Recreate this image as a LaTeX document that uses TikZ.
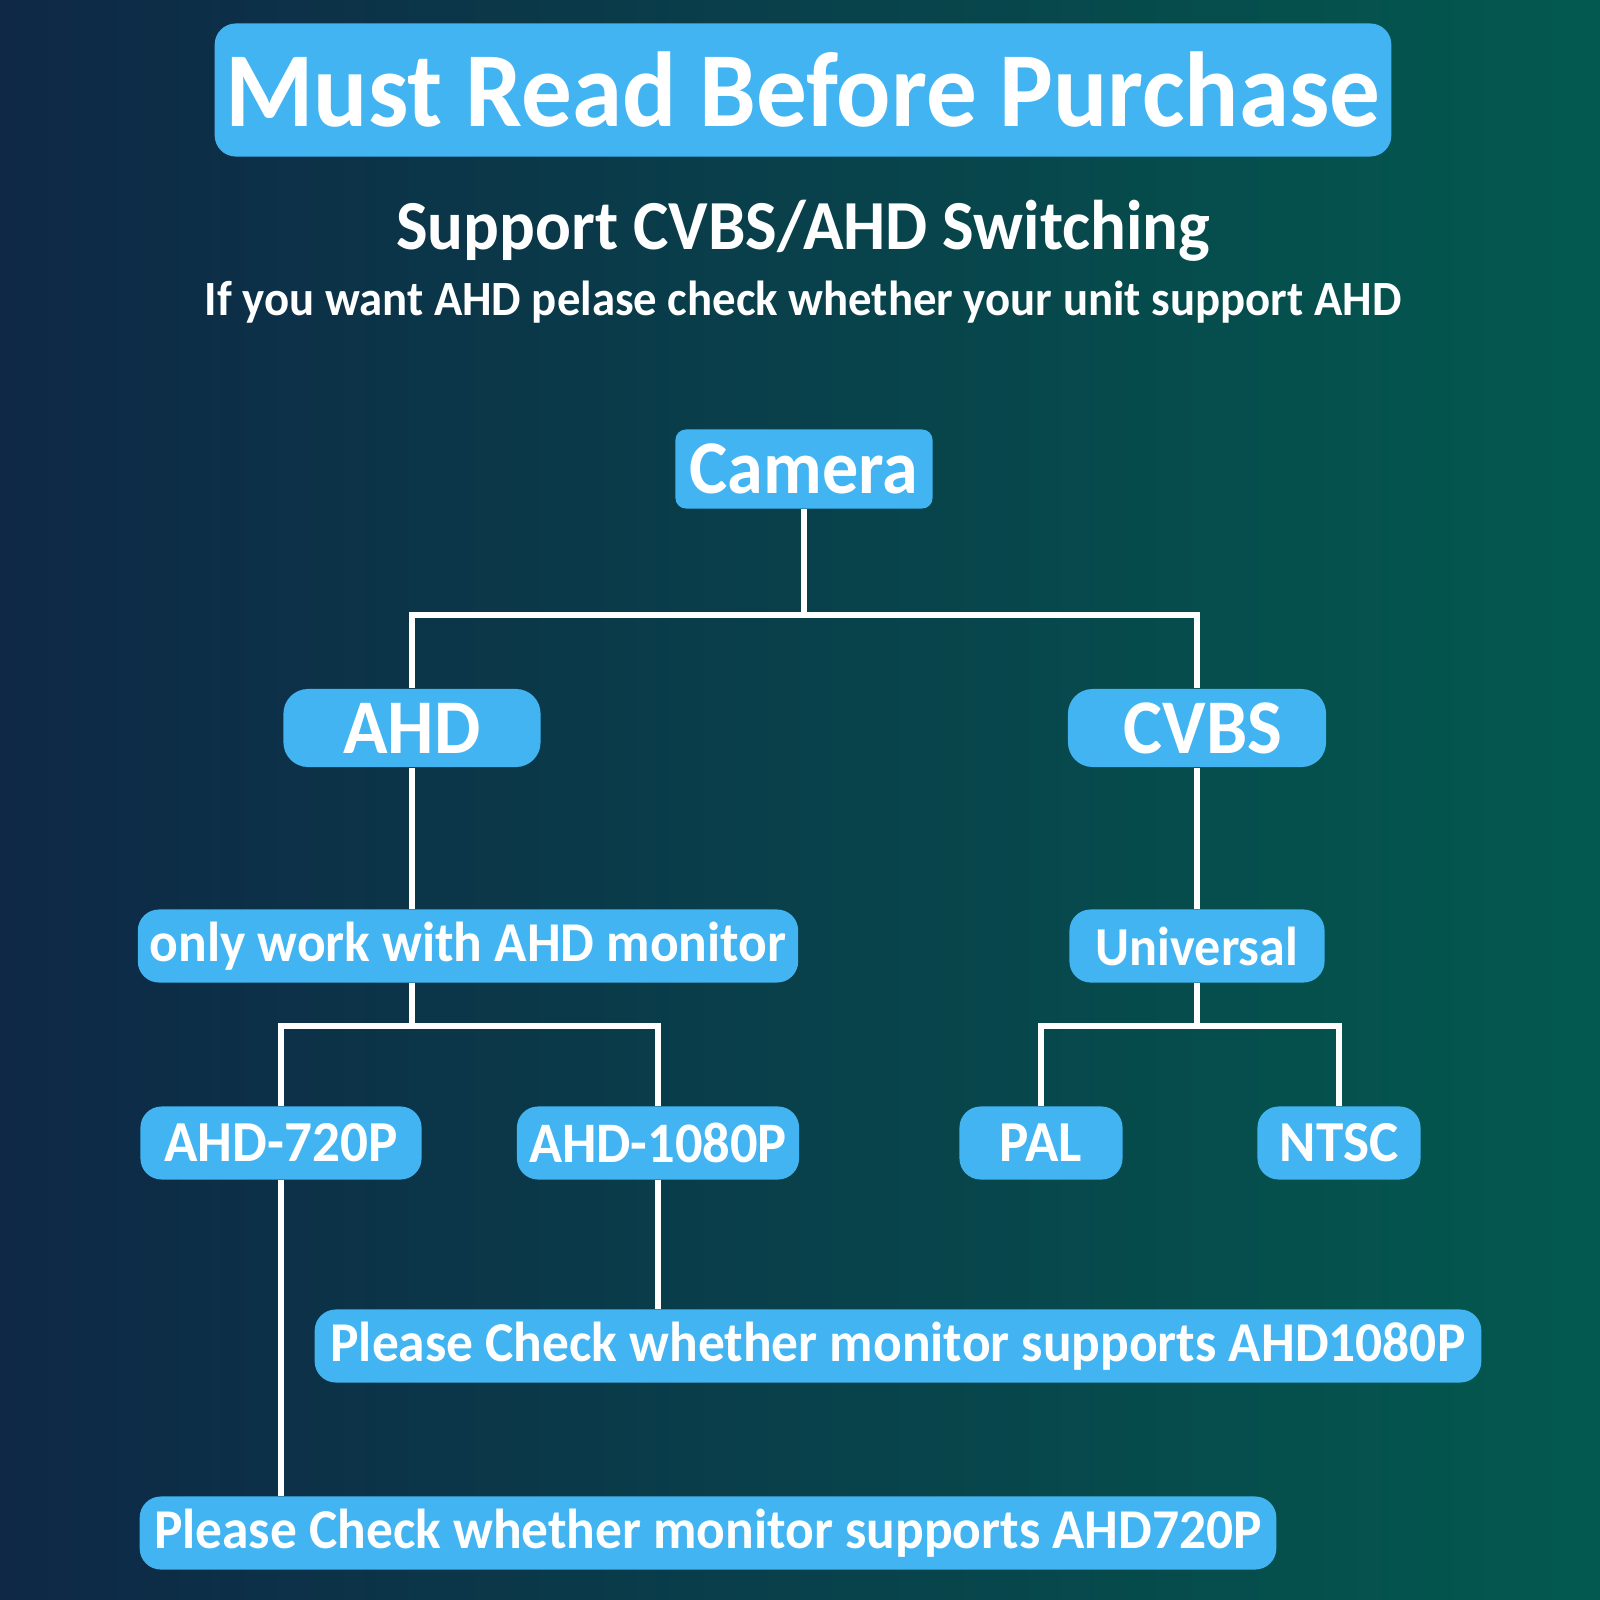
\documentclass[tikz,border=0pt]{standalone}
\usepackage{fontspec}
\setmainfont{Carlito}[FakeStretch=0.95]
\usepackage{tikz}
\usetikzlibrary{positioning,calc}
\definecolor{bgnavy}{HTML}{0E2846}
\definecolor{bgteal}{HTML}{03594F}
\definecolor{pillblue}{HTML}{42B4F2}
\tikzset{
  pill/.style={fill=pillblue, text=white, rounded corners=6pt, inner sep=0pt, align=center, font=\bfseries},
  lvl/.style={pill, minimum height=0.73cm},
  wire/.style={draw=white, line width=1.5pt},
  head/.style={text=white, font=\bfseries},
}

\begin{document}
\begin{tikzpicture}[x=0.01cm, y=-0.01cm]
    % background
    \shade[left color=bgnavy, right color=bgteal] (0,0) rectangle (1600,1600);
    \useasboundingbox (0,0) rectangle (1600,1600);
    % heading
    \node[pill, minimum width=11.76cm, minimum height=1.33cm, font=\fontsize{30.3}{34}\bfseries] (title) at (803,90) {Must Read Before Purchase};
    \node[head, font=\fontsize{20}{24}\bfseries] (sub) at (803,231) {Support CVBS/AHD Switching};
    \node[head, font=\fontsize{14}{17}\bfseries] (note) at (803,302) {If you want AHD pelase check whether your unit support AHD};
    % tree
    \node[pill, rounded corners=3pt, minimum width=2.57cm, minimum height=0.79cm, font=\fontsize{21.6}{24}\bfseries] (camera) at (804,469) {Camera};
    \node[pill, rounded corners=7pt, minimum width=2.57cm, minimum height=0.78cm, font=\fontsize{22}{24}\bfseries] (ahd) at (412,728) {AHD};
    \node[pill, rounded corners=7pt, minimum width=2.58cm, minimum height=0.78cm, font=\fontsize{22}{24}\bfseries] (cvbs) at (1197,728) {\hspace{0.12cm}CVBS};
    \node[lvl, minimum width=6.60cm, font=\fontsize{16}{19}\bfseries] (work) at (468,946) {only work with AHD monitor};
    \node[lvl, minimum width=2.55cm, font=\fontsize{15.6}{19}\bfseries] (univ) at (1197,946) {Universal};
    \node[lvl, minimum width=2.81cm, font=\fontsize{16.5}{19}\bfseries] (hd720) at (281,1143) {AHD-720P};
    \node[lvl, minimum width=2.82cm, font=\fontsize{16.3}{19}\bfseries] (hd1080) at (658,1143) {AHD-1080P};
    \node[lvl, minimum width=1.63cm, font=\fontsize{16.5}{19}\bfseries] (pal) at (1041,1143) {PAL};
    \node[lvl, minimum width=1.63cm, font=\fontsize{16.5}{19}\bfseries] (ntsc) at (1339,1143) {NTSC};
    \node[lvl, minimum width=11.66cm, font=\fontsize{16}{19}\bfseries] (chk1080) at (898,1346) {Please Check whether monitor supports AHD1080P};
    \node[lvl, minimum width=11.36cm, font=\fontsize{16}{19}\bfseries] (chk720) at (708,1533) {Please Check whether monitor supports AHD720P};
    % connectors
    \coordinate (top) at (804,615);
    \coordinate (ahdsplit) at (412,1026);
    \coordinate (cvbssplit) at (1197,1026);
    \draw[wire] (camera.south) -- (top);
    \draw[wire] (ahd.north) |- (top) -| (cvbs.north);
    \draw[wire] (ahd.south) -- (ahd.south |- work.north);
    \draw[wire] (ahd.south |- work.south) -- (ahdsplit);
    \draw[wire] (hd720.north) |- (ahdsplit) -| (hd1080.north);
    \draw[wire] (cvbs.south) -- (univ.north);
    \draw[wire] (univ.south) -- (cvbssplit);
    \draw[wire] (pal.north) |- (cvbssplit) -| (ntsc.north);
    \draw[wire] (hd1080.south) -- (hd1080.south |- chk1080.north);
    \draw[wire] (hd720.south) -- (hd720.south |- chk720.north);
\end{tikzpicture}
\end{document}
